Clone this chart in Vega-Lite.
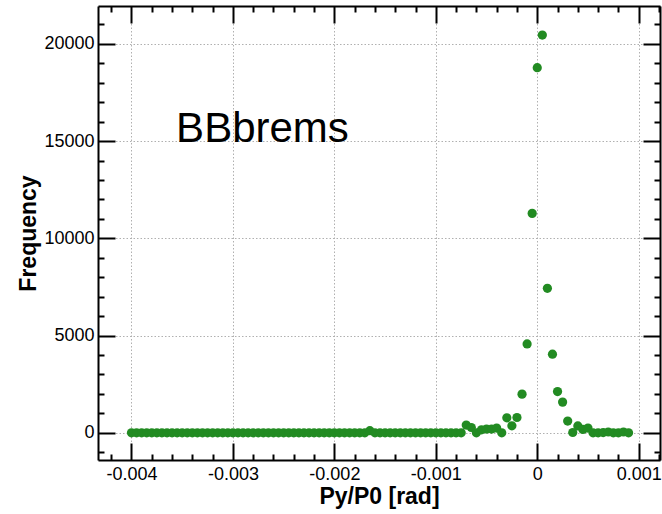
{
  "$schema": "https://vega.github.io/schema/vega-lite/v6.json",
  "width": 562,
  "height": 454,
  "autosize": {"type": "none"},
  "padding": {"left": 98, "top": 6, "right": 2, "bottom": 54},
  "background": "white",
  "config": {
    "view": {"stroke": null},
    "axis": {
      "labelFont": "Liberation Sans",
      "labelFontSize": 18,
      "labelColor": "black",
      "titleFont": "Liberation Sans",
      "titleFontSize": 23,
      "titleFontWeight": "bold",
      "titleColor": "black",
      "domainColor": "black",
      "domainWidth": 2,
      "tickColor": "black",
      "tickWidth": 2,
      "gridColor": "#b0b0b0",
      "gridDash": [1.5, 2],
      "gridWidth": 1
    }
  },
  "datasets": {
    "hist": [
      {"px": -0.004, "f": 0}, {"px": -0.00395, "f": 0}, {"px": -0.0039, "f": 0}, {"px": -0.00385, "f": 0},
      {"px": -0.0038, "f": 0}, {"px": -0.00375, "f": 0}, {"px": -0.0037, "f": 0}, {"px": -0.00365, "f": 0},
      {"px": -0.0036, "f": 0}, {"px": -0.00355, "f": 0}, {"px": -0.0035, "f": 0}, {"px": -0.00345, "f": 0},
      {"px": -0.0034, "f": 0}, {"px": -0.00335, "f": 0}, {"px": -0.0033, "f": 0}, {"px": -0.00325, "f": 0},
      {"px": -0.0032, "f": 0}, {"px": -0.00315, "f": 0}, {"px": -0.0031, "f": 0}, {"px": -0.00305, "f": 0},
      {"px": -0.003, "f": 0}, {"px": -0.00295, "f": 0}, {"px": -0.0029, "f": 0}, {"px": -0.00285, "f": 0},
      {"px": -0.0028, "f": 0}, {"px": -0.00275, "f": 0}, {"px": -0.0027, "f": 0}, {"px": -0.00265, "f": 0},
      {"px": -0.0026, "f": 0}, {"px": -0.00255, "f": 0}, {"px": -0.0025, "f": 0}, {"px": -0.00245, "f": 0},
      {"px": -0.0024, "f": 0}, {"px": -0.00235, "f": 0}, {"px": -0.0023, "f": 0}, {"px": -0.00225, "f": 0},
      {"px": -0.0022, "f": 0}, {"px": -0.00215, "f": 0}, {"px": -0.0021, "f": 0}, {"px": -0.00205, "f": 0},
      {"px": -0.002, "f": 0}, {"px": -0.00195, "f": 0}, {"px": -0.0019, "f": 0}, {"px": -0.00185, "f": 0},
      {"px": -0.0018, "f": 0}, {"px": -0.00175, "f": 0}, {"px": -0.0017, "f": 0}, {"px": -0.00165, "f": 110},
      {"px": -0.0016, "f": 0}, {"px": -0.00155, "f": 0}, {"px": -0.0015, "f": 0}, {"px": -0.00145, "f": 0},
      {"px": -0.0014, "f": 0}, {"px": -0.00135, "f": 0}, {"px": -0.0013, "f": 0}, {"px": -0.00125, "f": 0},
      {"px": -0.0012, "f": 0}, {"px": -0.00115, "f": 0}, {"px": -0.0011, "f": 0}, {"px": -0.00105, "f": 0},
      {"px": -0.001, "f": 0}, {"px": -0.00095, "f": 0}, {"px": -0.0009, "f": 0}, {"px": -0.00085, "f": 0},
      {"px": -0.0008, "f": 0}, {"px": -0.00075, "f": 0}, {"px": -0.0007, "f": 395}, {"px": -0.00065, "f": 272},
      {"px": -0.0006, "f": 0}, {"px": -0.00055, "f": 154}, {"px": -0.0005, "f": 190}, {"px": -0.00045, "f": 190},
      {"px": -0.0004, "f": 240}, {"px": -0.00035, "f": 0}, {"px": -0.0003, "f": 770}, {"px": -0.00025, "f": 360},
      {"px": -0.0002, "f": 786}, {"px": -0.00015, "f": 1988}, {"px": -0.0001, "f": 4571}, {"px": -0.00005, "f": 11284},
      {"px": 0, "f": 18780}, {"px": 0.00005, "f": 20457}, {"px": 0.0001, "f": 7432}, {"px": 0.00015, "f": 4042},
      {"px": 0.0002, "f": 2121}, {"px": 0.00025, "f": 1577}, {"px": 0.0003, "f": 600}, {"px": 0.00035, "f": 15},
      {"px": 0.0004, "f": 350}, {"px": 0.00045, "f": 170}, {"px": 0.0005, "f": 240}, {"px": 0.00055, "f": 0},
      {"px": 0.0006, "f": 0}, {"px": 0.00065, "f": 10}, {"px": 0.0007, "f": 40}, {"px": 0.00075, "f": 0},
      {"px": 0.0008, "f": 0}, {"px": 0.00085, "f": 40}, {"px": 0.0009, "f": 0}
    ],
    "ann": [{"label": "BBbrems", "px": -0.00356, "f": 14950}]
  },
  "layer": [
    {
      "data": {"name": "hist"},
      "mark": {"type": "point", "filled": true, "opacity": 0, "size": 10},
      "encoding": {
        "x": {
          "field": "px", "type": "quantitative",
          "scale": {"domain": [-0.00433, 0.00121], "nice": false, "zero": false},
          "axis": {
            "orient": "top", "title": null, "labels": false, "grid": false,
            "values": [-0.0042, -0.004, -0.0038, -0.0036, -0.0034, -0.0032, -0.003, -0.0028, -0.0026, -0.0024, -0.0022, -0.002, -0.0018, -0.0016, -0.0014, -0.0012, -0.001, -0.0008, -0.0006, -0.0004, -0.0002, 0, 0.0002, 0.0004, 0.0006, 0.0008, 0.001, 0.0012],
            "tickSize": {"condition": {"test": "abs(datum.value*1000 - round(datum.value*1000)) < 0.01", "value": -17}, "value": -6}
          }
        },
        "y": {
          "field": "f", "type": "quantitative",
          "scale": {"domain": [-1400, 21950], "nice": false, "zero": false},
          "axis": {
            "orient": "right", "title": null, "labels": false, "grid": false,
            "values": [-1000, 0, 1000, 2000, 3000, 4000, 5000, 6000, 7000, 8000, 9000, 10000, 11000, 12000, 13000, 14000, 15000, 16000, 17000, 18000, 19000, 20000, 21000],
            "tickSize": {"condition": {"test": "datum.value % 5000 == 0", "value": -17}, "value": -6}
          }
        }
      }
    },
    {
      "data": {"name": "hist"},
      "mark": {"type": "point", "filled": true, "opacity": 1, "size": 85, "color": "#228B22"},
      "encoding": {
        "x": {
          "field": "px", "type": "quantitative",
          "scale": {"domain": [-0.00433, 0.00121], "nice": false, "zero": false},
          "axis": {
            "orient": "bottom", "title": "Py/P0 [rad]", "grid": true,
            "values": [-0.0042, -0.004, -0.0038, -0.0036, -0.0034, -0.0032, -0.003, -0.0028, -0.0026, -0.0024, -0.0022, -0.002, -0.0018, -0.0016, -0.0014, -0.0012, -0.001, -0.0008, -0.0006, -0.0004, -0.0002, 0, 0.0002, 0.0004, 0.0006, 0.0008, 0.001, 0.0012],
            "labelExpr": "abs(datum.value*1000 - round(datum.value*1000)) < 0.01 ? toString(datum.value) : ''",
            "labelPadding": 22,
            "titlePadding": 2,
            "tickSize": {"condition": {"test": "abs(datum.value*1000 - round(datum.value*1000)) < 0.01", "value": -17}, "value": -6},
            "gridOpacity": {"condition": {"test": "abs(datum.value*1000 - round(datum.value*1000)) < 0.01", "value": 1}, "value": 0}
          }
        },
        "y": {
          "field": "f", "type": "quantitative",
          "scale": {"domain": [-1400, 21950], "nice": false, "zero": false},
          "axis": {
            "orient": "left", "title": "Frequency", "grid": true,
            "values": [-1000, 0, 1000, 2000, 3000, 4000, 5000, 6000, 7000, 8000, 9000, 10000, 11000, 12000, 13000, 14000, 15000, 16000, 17000, 18000, 19000, 20000, 21000],
            "labelExpr": "datum.value % 5000 == 0 ? toString(datum.value) : ''",
            "labelPadding": 21,
            "titlePadding": 3,
            "tickSize": {"condition": {"test": "datum.value % 5000 == 0", "value": -17}, "value": -6},
            "gridOpacity": {"condition": {"test": "datum.value % 5000 == 0", "value": 1}, "value": 0}
          }
        }
      }
    },
    {
      "data": {"name": "ann"},
      "mark": {"type": "text", "align": "left", "baseline": "alphabetic", "font": "Liberation Sans", "fontSize": 42, "color": "black"},
      "encoding": {
        "x": {"field": "px", "type": "quantitative", "scale": {"domain": [-0.00433, 0.00121], "nice": false, "zero": false}, "axis": null},
        "y": {"field": "f", "type": "quantitative", "scale": {"domain": [-1400, 21950], "nice": false, "zero": false}, "axis": null},
        "text": {"field": "label"}
      }
    }
  ],
  "resolve": {"axis": {"x": "independent", "y": "independent"}}
}
